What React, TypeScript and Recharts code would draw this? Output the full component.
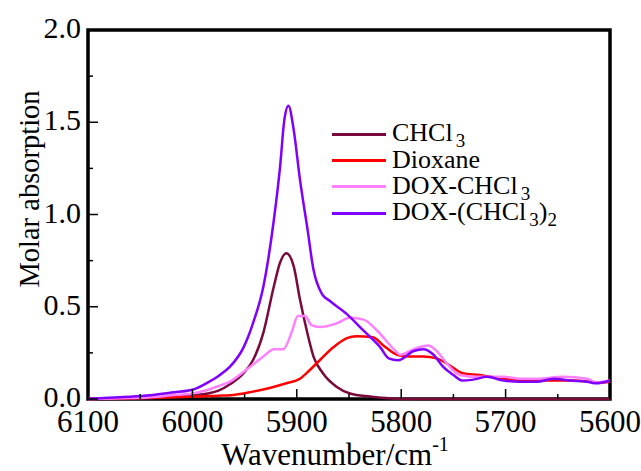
import React from 'react';
import {
  LineChart,
  Line,
  XAxis,
  YAxis,
  Label,
  ReferenceArea,
} from 'recharts';

// Wavenumber (cm-1) / molar absorption
const chcl3Wn = [6100, 6050, 6020, 6000, 5985, 5975, 5964, 5951, 5942, 5932, 5922, 5916, 5910, 5903, 5897, 5890, 5884, 5875, 5862, 5849, 5830, 5810, 5780, 5700, 5600];
const chcl3Abs = [0, 0.003, 0.01, 0.02, 0.03, 0.045, 0.08, 0.14, 0.21, 0.36, 0.61, 0.74, 0.79, 0.72, 0.54, 0.36, 0.23, 0.14, 0.067, 0.03, 0.013, 0.003, 0, 0, 0];

const dioxWn = [6100, 6050, 6000, 5975, 5964, 5942, 5926, 5910, 5897, 5887, 5878, 5865, 5852, 5843, 5827, 5817, 5804, 5792, 5779, 5766, 5753, 5741, 5725, 5702, 5670, 5638, 5606, 5600];
const dioxAbs = [0, 0.005, 0.012, 0.018, 0.02, 0.04, 0.06, 0.085, 0.11, 0.16, 0.21, 0.28, 0.33, 0.34, 0.335, 0.29, 0.24, 0.23, 0.23, 0.22, 0.18, 0.14, 0.13, 0.11, 0.1, 0.1, 0.09, 0.095];

const doxWn = [6100, 6060, 6040, 6020, 6000, 5985, 5975, 5964, 5948, 5932, 5922, 5913, 5905, 5899, 5892, 5886, 5878, 5862, 5849, 5836, 5823, 5807, 5801, 5788, 5774, 5766, 5756, 5744, 5728, 5702, 5686, 5670, 5645, 5622, 5613, 5600];
const doxAbs = [0, 0.005, 0.01, 0.02, 0.03, 0.05, 0.07, 0.094, 0.16, 0.23, 0.27, 0.27, 0.36, 0.45, 0.45, 0.4, 0.39, 0.41, 0.44, 0.43, 0.37, 0.27, 0.24, 0.27, 0.29, 0.26, 0.19, 0.13, 0.12, 0.12, 0.11, 0.11, 0.12, 0.11, 0.09, 0.1];

const dox2Wn = [6100, 6070, 6040, 6020, 6000, 5985, 5975, 5964, 5951, 5942, 5932, 5922, 5916, 5912, 5908, 5903, 5897, 5890, 5884, 5876, 5868, 5852, 5836, 5820, 5812, 5803, 5788, 5779, 5769, 5760, 5750, 5741, 5731, 5718, 5702, 5686, 5670, 5654, 5638, 5622, 5613, 5600];
const dox2Abs = [0, 0.01, 0.02, 0.035, 0.05, 0.09, 0.125, 0.175, 0.28, 0.41, 0.61, 0.97, 1.26, 1.51, 1.59, 1.46, 1.19, 0.93, 0.7, 0.57, 0.53, 0.46, 0.37, 0.28, 0.22, 0.21, 0.26, 0.27, 0.24, 0.175, 0.13, 0.1, 0.105, 0.12, 0.1, 0.094, 0.094, 0.11, 0.1, 0.094, 0.085, 0.1];

const xTicks = [6100, 6050, 6000, 5950, 5900, 5850, 5800, 5750, 5700, 5650, 5600];
const yTicks = [0, 0.25, 0.5, 0.75, 1, 1.25, 1.5, 1.75, 2];

const toPoints = (wn: number[], abs: number[]) => wn.map((w, i) => ({ wn: w, a: abs[i] }));

const series = [
  { key: 'chcl3', name: 'CHCl', sub: '3', tail: '', sub2: '', color: '#7b0a3c', data: toPoints(chcl3Wn, chcl3Abs) },
  { key: 'diox', name: 'Dioxane', sub: '', tail: '', sub2: '', color: '#ff0000', data: toPoints(dioxWn, dioxAbs) },
  { key: 'dox', name: 'DOX-CHCl', sub: '3', tail: '', sub2: '', color: '#ff80ff', data: toPoints(doxWn, doxAbs) },
  { key: 'dox2', name: 'DOX-(CHCl', sub: '3', tail: ')', sub2: '2', color: '#8000ff', data: toPoints(dox2Wn, dox2Abs) },
];

const FONT = "'Times New Roman', 'Liberation Serif', Tinos, serif";
const serif = { fontFamily: FONT };

// plot frame edges (chart margins + axis sizes below)
const PLOT_LEFT = 88;
const PLOT_BOTTOM = 399;

const XTick = (props: any) => {
  const { x, payload } = props;
  const major = payload.value % 100 === 0;
  return (
    <g>
      <line x1={x} x2={x} y1={PLOT_BOTTOM} y2={PLOT_BOTTOM - (major ? 10 : 5)} stroke="#000" strokeWidth={1.5} />
      {major && (
        <text x={x} y={PLOT_BOTTOM + 33} textAnchor="middle" style={serif} fontSize={31} fill="#000">
          {payload.value}
        </text>
      )}
    </g>
  );
};

const YTick = (props: any) => {
  const { y, payload } = props;
  const major = Math.abs((payload.value * 2) % 1) < 1e-6;
  return (
    <g>
      <line x1={PLOT_LEFT} x2={PLOT_LEFT + (major ? 10 : 5)} y1={y} y2={y} stroke="#000" strokeWidth={1.5} />
      {major && (
        <text x={PLOT_LEFT - 7} y={y + 8} textAnchor="end" style={serif} fontSize={30} fill="#000">
          {payload.value.toFixed(1)}
        </text>
      )}
    </g>
  );
};

const LegendBox = () => (
  <div
    style={{
      position: 'absolute',
      left: 332,
      top: 121,
      fontFamily: FONT,
      fontSize: 26,
      color: '#000',
      lineHeight: '26.4px',
    }}
  >
    {series.map((s) => (
      <div key={s.key} style={{ display: 'flex', alignItems: 'center', whiteSpace: 'nowrap', height: 26.4 }}>
        <span style={{ display: 'inline-block', width: 54, height: 0, borderTop: `3px solid ${s.color}`, marginRight: 6 }} />
        <span>
          {s.name}
          {s.sub && <span style={{ fontSize: 19, position: 'relative', top: 6, marginLeft: 3 }}>{s.sub}</span>}
          {s.tail}
          {s.sub2 && <span style={{ fontSize: 19, position: 'relative', top: 6 }}>{s.sub2}</span>}
        </span>
      </div>
    ))}
  </div>
);

export default function App() {
  return (
    <div style={{ position: 'absolute', left: 0, top: 0, width: 641, height: 471, background: '#fff' }}>
      <LineChart width={641} height={471} margin={{ top: 30, right: 31, left: 0, bottom: 0 }}>
        <XAxis
          type="number"
          dataKey="wn"
          domain={[5600, 6100]}
          reversed
          ticks={xTicks}
          interval={0}
          tick={<XTick />}
          tickLine={false}
          axisLine={false}
          tickSize={0}
          tickMargin={6}
          height={72}
        >
          <Label
            content={() => (
              <text x={335} y={465} textAnchor="middle" style={serif} fontSize={31} fill="#000">
                Wavenumber/cm
                <tspan dy={-14} fontSize={20}>-1</tspan>
              </text>
            )}
          />
        </XAxis>
        <YAxis
          type="number"
          domain={[0, 2]}
          ticks={yTicks}
          interval={0}
          tick={<YTick />}
          tickLine={false}
          axisLine={false}
          tickSize={0}
          tickMargin={6}
          width={88}
        >
          <Label
            content={() => (
              <text
                x={0}
                y={0}
                transform="translate(39 189) rotate(-90)"
                textAnchor="middle"
                style={serif}
                fontSize={28.5}
                fill="#000"
              >
                Molar absorption
              </text>
            )}
          />
        </YAxis>
        <ReferenceArea x1={6100} x2={5600} y1={0} y2={2} fill="none" stroke="#000" strokeWidth={3.5} ifOverflow="visible" />
        {series.map((s) => (
          <Line
            key={s.key}
            data={s.data}
            dataKey="a"
            type="monotone"
            stroke={s.color}
            strokeWidth={2.5}
            dot={false}
            isAnimationActive={false}
          />
        ))}
      </LineChart>
      <LegendBox />
    </div>
  );
}
